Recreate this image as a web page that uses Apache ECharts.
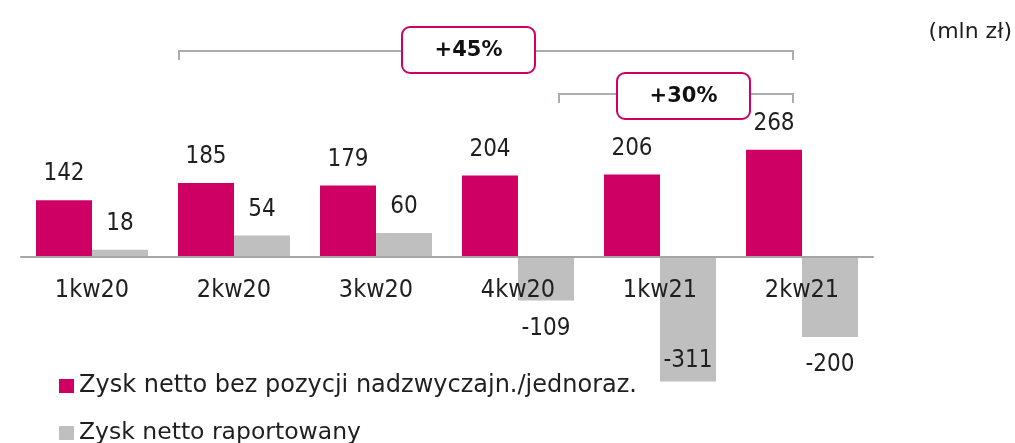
<!DOCTYPE html>
<html>
<head>
<meta charset="utf-8">
<script src="https://cdn.jsdelivr.net/npm/echarts@6/dist/echarts.min.js"></script>
<style>
html,body{margin:0;padding:0;background:#fff;}
#chart{width:1015px;height:443px;}
</style>
</head>
<body>
<div id="chart"></div>
<script>
const categories = ['1kw20', '2kw20', '3kw20', '4kw20', '1kw21', '2kw21'];
const adjustedProfit = [142, 185, 179, 204, 206, 268];
const reportedProfit = [18, 54, 60, -109, -311, -200];
const seriesNames = ['Zysk netto bez pozycji nadzwyczajn./jednoraz.', 'Zysk netto raportowany'];
const unitLabel = '(mln zł)';
const growthLabels = ['+45%', '+30%'];

const FONT = 'DejaVu Sans';
const FONT_C = 'DejaVu Sans Condensed';
const TXT = '#1f1f1f';
const MAGENTA = '#CF0063';
const GRAY = '#BFBFBF';

const chart = echarts.init(document.getElementById('chart'), null, {renderer: 'canvas'});

function bracket(x1, x2, y, tick, boxX, boxW, boxY, boxH, text) {
  return [
    {type: 'polyline', shape: {points: [[x1, y + tick], [x1, y], [x2, y], [x2, y + tick]]},
     style: {stroke: '#A9AEB5', lineWidth: 2, fill: null}, z: 5},
    {type: 'rect', shape: {x: boxX, y: boxY, width: boxW, height: boxH, r: 8},
     style: {fill: '#fff', stroke: MAGENTA, lineWidth: 2}, z: 6},
    {type: 'text', x: boxX + boxW / 2, y: boxY + boxH / 2 + 1,
     style: {text: text, fontFamily: FONT, fontSize: 21, fontWeight: 'bold', fill: '#111',
             align: 'center', verticalAlign: 'middle'}, z: 7}
  ];
}

const labelBase = {show: true, color: TXT, fontFamily: FONT_C, fontSize: 24, lineHeight: 24};

const reportedData = reportedProfit.map(v => {
  if (v <= -300) return {value: v, label: {position: 'insideBottom', distance: 9}};
  if (v < 0) return {value: v, label: {position: 'bottom', distance: 16}};
  return v;
});

const option = {
  animation: false,
  backgroundColor: '#fff',
  grid: {left: 21, width: 852, top: 97, height: 320, containLabel: false},
  xAxis: {
    type: 'category',
    data: categories,
    z: 10,
    offset: -160,
    axisLine: {show: true, onZero: false, lineStyle: {color: '#A6A6A6', width: 2}},
    axisTick: {show: false},
    axisLabel: {color: TXT, fontFamily: FONT_C, fontSize: 25, margin: 21},
    splitLine: {show: false}
  },
  yAxis: {
    type: 'value',
    min: -400,
    max: 400,
    show: false,
    splitLine: {show: false}
  },
  legend: [
    {
      orient: 'horizontal', left: 59, top: 374, padding: 0,
      itemWidth: 15, itemHeight: 14, itemGap: 10, icon: 'rect',
      textStyle: {color: TXT, fontFamily: FONT, fontSize: 24, lineHeight: 24},
      data: [seriesNames[0]]
    },
    {
      orient: 'horizontal', left: 59, top: 421, padding: 0,
      itemWidth: 15, itemHeight: 14, itemGap: 10, icon: 'rect',
      textStyle: {color: TXT, fontFamily: FONT, fontSize: 23.5, lineHeight: 24},
      data: [seriesNames[1]]
    }
  ],
  series: [
    {
      name: seriesNames[0],
      type: 'bar',
      data: adjustedProfit,
      barWidth: 56,
      barGap: '0%',
      itemStyle: {color: MAGENTA},
      label: Object.assign({position: 'top', distance: 14}, labelBase)
    },
    {
      name: seriesNames[1],
      type: 'bar',
      data: reportedData,
      barWidth: 56,
      barGap: '0%',
      itemStyle: {color: GRAY},
      label: Object.assign({position: 'top', distance: 14}, labelBase)
    }
  ],
  graphic: [].concat(
    bracket(179, 793, 51, 9, 402, 133, 27, 46, growthLabels[0]),
    bracket(559, 793, 94, 9, 617, 133, 73, 46, growthLabels[1]),
    [{type: 'text', right: 3, top: 21,
      style: {text: unitLabel, fontFamily: FONT, fontSize: 22, fill: TXT}}]
  )
};

chart.setOption(option);
</script>
</body>
</html>
